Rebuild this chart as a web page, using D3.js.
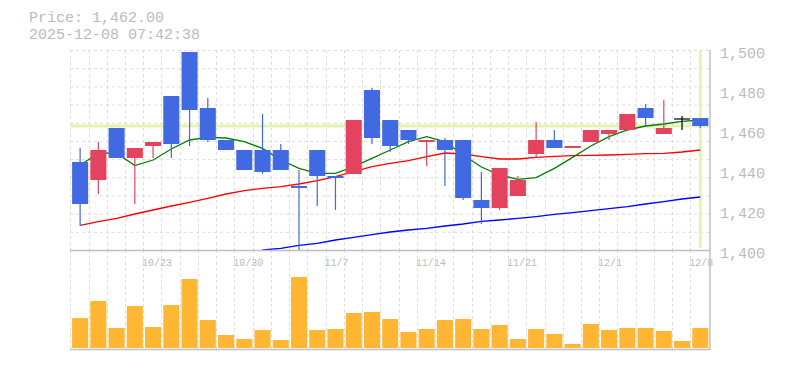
<!DOCTYPE html>
<html>
<head>
<meta charset="utf-8">
<script src="https://cdn.jsdelivr.net/npm/d3@7"></script>
<style>
  body { margin: 0; background: #fff; }
  svg { display: block; }
</style>
</head>
<body>
<div id="chart"></div>
<script>
// Trading days shown on the chart
const dates = [
  '10/17', '10/20', '10/21', '10/22', '10/23', '10/24', '10/27', '10/28', '10/29', '10/30',
  '10/31', '11/4', '11/5', '11/6', '11/7', '11/10', '11/11', '11/12', '11/13', '11/14',
  '11/17', '11/18', '11/19', '11/20', '11/21', '11/25', '11/26', '11/27', '11/28', '12/1',
  '12/2', '12/3', '12/4', '12/5', '12/8'
];
const dateLabels = ['10/23', '10/30', '11/7', '11/14', '11/21', '12/1', '12/8'];

const open  = [1444, 1435, 1461, 1446, 1452, 1477, 1499, 1471, 1455, 1450, 1450, 1450, 1432, 1450, 1437, 1438, 1480, 1465, 1460, 1454, 1455, 1455, 1425, 1421, 1427, 1448, 1455, 1451, 1454, 1458, 1460, 1471, 1458, 1465.5, 1466];
const high  = [1451, 1454, 1461, 1451, 1454, 1477, 1499, 1476, 1455, 1450, 1468, 1453, 1440, 1450, 1437, 1465, 1481, 1465, 1460, 1455, 1456, 1455, 1439, 1441, 1437, 1464, 1460, 1452, 1460, 1460, 1468, 1473, 1475, 1467, 1466];
const low   = [1412, 1428, 1446, 1423, 1446, 1446, 1452, 1454, 1450, 1440, 1438, 1440, 1400, 1422, 1420, 1438, 1453, 1449, 1453, 1442, 1432, 1425, 1413, 1420, 1427, 1446, 1451, 1451, 1454, 1455, 1460, 1462, 1458, 1460, 1461];
const close = [1423, 1450, 1446, 1451, 1454, 1453, 1470, 1455, 1450, 1440, 1439, 1440, 1431, 1437, 1436, 1465, 1456, 1452, 1455, 1455, 1450, 1426, 1421, 1441, 1435, 1455, 1451, 1452, 1460, 1460, 1468, 1466, 1461, 1465.5, 1462];

// Moving averages (5, 25, 75 days)
const ma5  = [1442.4, 1448.4, 1448.4, 1442.2, 1445, 1450.5, 1455, 1456.3, 1456, 1454.2, 1450.8, 1445, 1440.8, 1438.3, 1438.3, 1441.7, 1445.8, 1450, 1454.2, 1456.7, 1454.2, 1447.5, 1441.5, 1437.5, 1435.3, 1436.2, 1440.8, 1446.3, 1452, 1456.7, 1460, 1462, 1463, 1464.3, 1465];
const ma25 = [1412.3, 1414.2, 1415.8, 1418, 1420, 1422, 1423.8, 1425.8, 1428, 1429.7, 1430.8, 1431.7, 1433, 1434.7, 1436.7, 1439.2, 1441.7, 1443.3, 1444.7, 1446.7, 1448.5, 1448, 1446.7, 1445.5, 1445.5, 1446.3, 1446.8, 1447.2, 1447.3, 1447.5, 1447.8, 1448.2, 1448.3, 1449, 1450];
const ma75 = [null, null, null, null, null, null, null, null, null, null, 1400, 1400.8, 1402.3, 1403.3, 1405, 1406.3, 1407.7, 1409, 1410, 1410.8, 1412, 1413, 1414.3, 1415, 1415.8, 1416.7, 1417.8, 1418.7, 1419.7, 1420.7, 1421.7, 1423, 1424.2, 1425.5, 1426.5];

// Volume, thousand shares
const volume = [30, 47, 20, 42, 21, 43, 69, 28, 13, 9, 18, 8, 71, 18, 19, 35, 36, 29, 16, 19, 28, 29, 19, 23, 9, 19, 14, 4, 24, 18, 20, 20, 17, 7, 20];

const priceTicks = [1400, 1420, 1440, 1460, 1480, 1500];
const lastPrice = 1462;
const headerLines = ['Price: 1,462.00', '2025-12-08 07:42:38'];

const WIDTH = 785;
const HEIGHT = 370;
const LEFT = 70;
const RIGHT = 710;
const PRICE_TOP = 50;
const PRICE_BOTTOM = 250;
const VOL_BOTTOM = 348;
const FONT = '"Liberation Mono", "DejaVu Sans Mono", monospace';
const TEXT_COLOR = '#bbbbbb';
const GRID_COLOR = '#dddddd';
const UP_COLOR = '#e3435f';
const DOWN_COLOR = '#4169e1';

const svg = d3.select('#chart').append('svg').attr('width', WIDTH).attr('height', HEIGHT);

// Scales
const x = d3.scaleBand().domain(dates).range([LEFT + 1, RIGHT - 0.6]).paddingInner(0.12).paddingOuter(0.06);
const cx = (d) => x(d) + x.bandwidth() / 2;
const y = d3.scaleLinear().domain([1400, 1500]).range([PRICE_BOTTOM, PRICE_TOP]);
const yVol = d3.scaleLinear().domain([0, 100]).range([VOL_BOTTOM, VOL_BOTTOM - 100]);

// Grid
const grid = svg.append('g').attr('stroke', GRID_COLOR).attr('stroke-width', 1).attr('stroke-dasharray', '3,3');
const rowY = d3.scaleLinear().domain([0, 11]).range([PRICE_TOP, PRICE_BOTTOM]);
d3.range(11).forEach((k) => {
  grid.append('line').attr('x1', LEFT).attr('x2', RIGHT).attr('y1', rowY(k) + 0.5).attr('y2', rowY(k) + 0.5);
});
dates.forEach((d) => {
  const gx = Math.round(x(d) - 1.8) + 0.5;
  grid.append('line').attr('x1', gx).attr('x2', gx).attr('y1', PRICE_TOP).attr('y2', PRICE_BOTTOM);
  grid.append('line').attr('x1', gx).attr('x2', gx).attr('y1', PRICE_BOTTOM).attr('y2', VOL_BOTTOM + 1);
});

// Current price markers
const lastDate = dates[dates.length - 1];
svg.append('line')
  .attr('x1', LEFT).attr('x2', RIGHT)
  .attr('y1', y(lastPrice)).attr('y2', y(lastPrice))
  .attr('stroke', '#e3f4b0').attr('stroke-width', 3);
svg.append('line')
  .attr('x1', cx(lastDate)).attr('x2', cx(lastDate))
  .attr('y1', PRICE_TOP + 1).attr('y2', PRICE_BOTTOM - 2)
  .attr('stroke', '#e3f4b0').attr('stroke-width', 3);

// Moving average lines
svg.append('clipPath').attr('id', 'plot-clip')
  .append('rect').attr('x', LEFT).attr('y', PRICE_TOP).attr('width', RIGHT - LEFT).attr('height', PRICE_BOTTOM - PRICE_TOP);

const drawMa = (values, color) => {
  const line = d3.line()
    .defined((d) => d[1] !== null)
    .x((d) => cx(d[0]))
    .y((d) => y(d[1]));
  svg.append('path')
    .datum(dates.map((d, i) => [d, values[i]]))
    .attr('clip-path', 'url(#plot-clip)')
    .attr('fill', 'none')
    .attr('stroke', color)
    .attr('stroke-width', 1.3)
    .attr('d', line);
};
drawMa(ma75, '#0000ff');
drawMa(ma25, '#ff0000');
drawMa(ma5, '#008000');

// Candles
const candles = svg.append('g');
dates.forEach((d, i) => {
  const o = open[i];
  const c = close[i];
  if (o === c) {
    // doji
    candles.append('line').attr('x1', cx(d)).attr('x2', cx(d)).attr('y1', y(high[i])).attr('y2', y(low[i]))
      .attr('stroke', '#000').attr('stroke-width', 1.2);
    candles.append('line').attr('x1', x(d)).attr('x2', x(d) + x.bandwidth()).attr('y1', y(o)).attr('y2', y(o))
      .attr('stroke', '#000').attr('stroke-width', 1.2);
    return;
  }
  const color = c > o ? UP_COLOR : DOWN_COLOR;
  candles.append('line')
    .attr('x1', cx(d)).attr('x2', cx(d))
    .attr('y1', y(high[i])).attr('y2', y(low[i]))
    .attr('stroke', color).attr('stroke-width', 1.2);
  candles.append('rect')
    .attr('x', x(d))
    .attr('y', y(Math.max(o, c)))
    .attr('width', x.bandwidth())
    .attr('height', Math.max(1, y(Math.min(o, c)) - y(Math.max(o, c))))
    .attr('fill', color);
});

// Volume bars
svg.append('g').selectAll('rect').data(volume).enter().append('rect')
  .attr('x', (v, i) => x(dates[i]))
  .attr('y', (v) => yVol(v))
  .attr('width', x.bandwidth())
  .attr('height', (v) => yVol(0) - yVol(v))
  .attr('fill', '#ffb733');

// Frame
const frame = svg.append('g').attr('stroke', '#c0c0c0').attr('stroke-width', 1.5);
frame.append('line').attr('x1', LEFT).attr('x2', RIGHT).attr('y1', PRICE_BOTTOM + 0.5).attr('y2', PRICE_BOTTOM + 0.5);
frame.append('line').attr('x1', LEFT).attr('x2', RIGHT).attr('y1', VOL_BOTTOM + 1.5).attr('y2', VOL_BOTTOM + 1.5);
frame.append('line').attr('x1', RIGHT).attr('x2', RIGHT).attr('y1', PRICE_TOP).attr('y2', VOL_BOTTOM + 2);

// Price axis labels
svg.append('g').selectAll('text').data(priceTicks).enter().append('text')
  .attr('x', RIGHT + 10)
  .attr('y', (v) => y(v) + 8)
  .attr('font-family', FONT)
  .attr('font-size', '15px')
  .attr('fill', TEXT_COLOR)
  .text(d3.format(','));

// Date labels
svg.append('g').selectAll('text').data(dateLabels).enter().append('text')
  .attr('x', (d) => cx(d) - 11)
  .attr('y', PRICE_BOTTOM + 16)
  .attr('font-family', FONT)
  .attr('font-size', '10px')
  .attr('fill', TEXT_COLOR)
  .text((d) => d);

// Header (two lines, kept just apart)
svg.append('g').selectAll('text').data(headerLines).enter().append('text')
  .attr('x', 29)
  .attr('y', (d, i) => 22 + i * 17)
  .attr('font-family', FONT)
  .attr('font-size', '15px')
  .attr('fill', TEXT_COLOR)
  .text((d) => d);
</script>
</body>
</html>
